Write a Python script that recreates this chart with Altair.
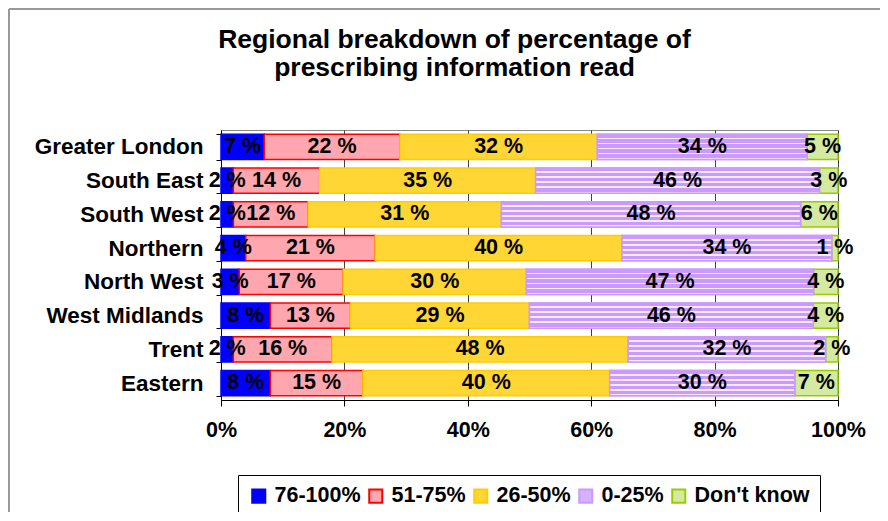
import altair as alt
import pandas as pd

# ---- data ----
regions = ["Greater London", "South East", "South West", "Northern",
           "North West", "West Midlands", "Trent", "Eastern"]
categories = ["76-100%", "51-75%", "26-50%", "0-25%", "Don't know"]
pct_76_100 = [7, 2, 2, 4, 3, 8, 2, 8]
pct_51_75 = [22, 14, 12, 21, 17, 13, 16, 15]
pct_26_50 = [32, 35, 31, 40, 30, 29, 48, 40]
pct_0_25 = [34, 46, 48, 34, 47, 46, 32, 30]
pct_dont_know = [5, 3, 6, 1, 4, 4, 2, 7]
x_ticks = [0, 0.2, 0.4, 0.6, 0.8, 1.0]
title_lines = ["Regional breakdown of percentage of", "prescribing information read"]

fill_colors = ["#0000FF", "#FFA6AE", "#FFD633", "#D6B3FF", "#D3EAA0"]
stroke_colors = ["#0000FF", "#FF0000", "#FFCC00", "#CC99FF", "#99CC00"]

series = [pct_76_100, pct_51_75, pct_26_50, pct_0_25, pct_dont_know]
rows = []
for i, r in enumerate(regions):
    for j, (c, vals) in enumerate(zip(categories, series)):
        rows.append({"region": r, "category": c, "order": j,
                     "value": vals[i], "label": f"{vals[i]} %"})
df = pd.DataFrame(rows)

FONT = "Liberation Sans"

base = alt.Chart(df).transform_stack(
    stack="value", groupby=["region"], as_=["x0", "x1"],
    sort=[alt.SortField("order", order="ascending")], offset="normalize"
).transform_calculate(mid="(datum.x0 + datum.x1) / 2")

y_enc = alt.Y("region:N", sort=regions,
              scale=alt.Scale(paddingInner=0.25, paddingOuter=0.125),
              axis=alt.Axis(title=None, tickBand="extent", tickSize=5,
                            labelPadding=13, labelFont=FONT, labelFontSize=22.5,
                            labelFontWeight="bold", labelColor="black",
                            labelLimit=400, domainColor="black", tickColor="black",
                            grid=False))
x_enc = alt.X("x0:Q", scale=alt.Scale(domain=[0, 1], nice=False),
              axis=alt.Axis(title=None, format="%", values=x_ticks, grid=True,
                            gridColor="#404040", gridWidth=1, tickSize=6,
                            labelPadding=13, labelFont=FONT, labelFontSize=21.5,
                            labelFontWeight="bold", labelColor="black",
                            domainColor="black", tickColor="black", labelFlush=False))

legend = alt.Legend(title=None, orient="none", legendX=17, legendY=345,
                    direction="horizontal", labelFont=FONT, labelFontSize=21.5,
                    labelFontWeight="bold", labelColor="black", symbolType="square",
                    symbolSize=170, symbolStrokeWidth=2, strokeColor="black",
                    fillColor="white", padding=10, columnPadding=4, labelOffset=5)

bars = base.mark_bar(strokeWidth=1.5).encode(
    x=x_enc, x2="x1:Q", y=y_enc,
    fill=alt.Fill("category:N", sort=categories,
                  scale=alt.Scale(domain=categories, range=fill_colors), legend=legend),
    stroke=alt.Stroke("category:N", sort=categories,
                      scale=alt.Scale(domain=categories, range=stroke_colors), legend=legend),
)

stops = []
for k in range(5):
    a = k * 0.2
    stops += [alt.GradientStop(offset=a, color="#CC99FF"),
              alt.GradientStop(offset=a + 0.13, color="#CC99FF"),
              alt.GradientStop(offset=a + 0.13, color="#F5EBFF"),
              alt.GradientStop(offset=a + 0.2, color="#F5EBFF")]
stripes = alt.Gradient(gradient="linear", stops=stops, x1=0, y1=0, x2=0, y2=1)

lav = base.transform_filter(alt.datum.category == "0-25%").mark_bar(
    fill=stripes, stroke="#CC99FF", strokeWidth=1.5
).encode(x="x0:Q", x2="x1:Q", y=alt.Y("region:N", sort=regions))

labels = base.mark_text(font=FONT, fontSize=21.5, fontWeight="bold", color="black").encode(
    x="mid:Q", y=alt.Y("region:N", sort=regions), text="label:N")

frame_df = pd.DataFrame({"k": [0]})
frame_left = alt.Chart(frame_df).mark_rule(color="#999999", strokeWidth=2).encode(
    x=alt.value(-212), y=alt.value(-121), y2=alt.value(390))
frame_top = alt.Chart(frame_df).mark_rule(color="#999999", strokeWidth=2).encode(
    x=alt.value(-212), x2=alt.value(670), y=alt.value(-121))

chart = alt.layer(bars, lav, labels, frame_left, frame_top).properties(
    width=617, height=270,
    autosize=alt.AutoSizeParams(type="none"),
    padding={"left": 213, "top": 122, "right": 42, "bottom": 112},
    title=alt.TitleParams(title_lines, font=FONT, fontSize=26.5, fontWeight="bold",
                          color="black", anchor="middle", dx=-75, offset=-73,
                          lineHeight=28),
).configure_view(stroke="#888888", strokeWidth=1)

chart.save("out.html", embed_options={"renderer": "svg", "actions": False})
